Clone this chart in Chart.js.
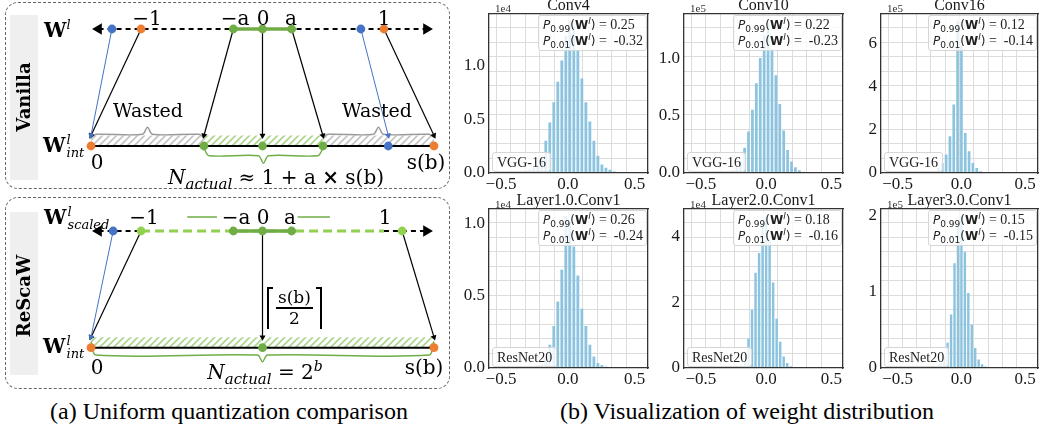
<!DOCTYPE html>
<html>
<head>
<meta charset="utf-8">
<title>Uniform quantization comparison / weight distribution</title>
<script src="https://cdn.jsdelivr.net/npm/chart.js@4.4.0/dist/chart.umd.min.js"></script>
<style>
  body { margin: 0; background: #fff; }
  #fig { position: relative; width: 1039px; height: 429px; overflow: hidden; }
  #fig canvas { position: absolute; }
  .t, .tl, .side { position: absolute; white-space: nowrap; line-height: 1; color: #000;
                   font-family: 'DejaVu Serif', serif; font-size: 20px; }
  .t { transform: translate(-50%, -50%); }
  .tl { transform: translate(0, -50%); }
  .side { font-weight: bold; font-size: 18px; transform: translate(-50%, -50%) rotate(-90deg); }
  .frame { position: absolute; left: 5px; width: 443px; border: 1px dashed #666; border-radius: 13px; }
  .tab { position: absolute; left: 10px; width: 28px; background: #efefef; }
  .W { font-size: 20px; }
  sub, sup { line-height: 0; }
  .stack { display: inline-block; vertical-align: middle; font-size: 13px; line-height: 13px;
           font-style: italic; margin-left: 1px; }
  .stack span { display: block; }
  .sb { font-size: 15px; }
  .ceil { display: inline-block; vertical-align: middle; width: 4px; height: 40px; border-top: 2px solid #000; }
  .frac { display: inline-block; vertical-align: middle; text-align: center; margin: 0 3px; font-size: 17px; }
  .frac span { display: block; padding: 1px 2px; }
  .cap { font-family: 'Liberation Serif', serif; font-size: 24px; }
  .hx { position: absolute; font-family: 'Liberation Serif', serif; font-size: 11px; color: #333;
        transform: translate(-50%, -50%); }
  .pbox { position: absolute; background: rgba(255,255,255,0.8); border: 1px solid #d6d6d6; border-radius: 3px;
          padding: 1px 3px 1px 4px; font-family: 'Liberation Serif', serif; font-size: 14px; line-height: 16px;
          color: #222; white-space: nowrap; }
  .pbox .m { font-family: 'DejaVu Sans', sans-serif; font-size: 12px; }
  .pbox sub, .pbox sup { font-size: 9px; }
  .mbox { position: absolute; background: rgba(255,255,255,0.8); border: 1px solid #d6d6d6; border-radius: 3px;
          padding: 0 4px; height: 18px; line-height: 19px; font-family: 'Liberation Serif', serif; font-size: 14px;
          color: #222; white-space: nowrap; }
</style>
</head>
<body>
<div id="fig">
  <div class="frame" style="top:2px;height:185px"></div>
  <div class="frame" style="top:197px;height:190px"></div>
  <div class="tab" style="top:15px;height:165px"></div>
  <div class="tab" style="top:212px;height:163px"></div>
  <canvas id="vanilla" width="450" height="190" style="left:0;top:0"></canvas>
  <canvas id="rescaw" width="450" height="195" style="left:0;top:195px"></canvas>

  <div class="side" style="left:24px;top:97px">Vanilla</div>
  <div class="tl" style="left:44px;top:30px"><b class="W">W</b><sup style="font-size:13px"><i>l</i></sup></div>
  <div class="t" style="left:147px;top:18px">−1</div>
  <div class="t" style="left:235px;top:18px">−a</div>
  <div class="t" style="left:263px;top:18px">0</div>
  <div class="t" style="left:291px;top:18px">a</div>
  <div class="t" style="left:384px;top:18px">1</div>
  <div class="t" style="left:148px;top:110px;font-size:19px">Wasted</div>
  <div class="t" style="left:377px;top:110px;font-size:19px">Wasted</div>
  <div class="tl" style="left:43px;top:146px"><b class="W">W</b><span class="stack"><span>l</span><span>int</span></span></div>
  <div class="t" style="left:97px;top:162px">0</div>
  <div class="t" style="left:426px;top:162px">s(b)</div>
  <div class="t" style="left:276px;top:177px"><i>N</i><sub class="sb"><i>actual</i></sub> ≈ 1 + a <b>×</b> s(b)</div>

  <div class="side" style="left:24px;top:296px">ReScaW</div>
  <div class="tl" style="left:44px;top:218px"><b class="W">W</b><span class="stack"><span>l</span><span>scaled</span></span></div>
  <div class="t" style="left:144px;top:217px">−1</div>
  <div class="t" style="left:236px;top:217px">−a</div>
  <div class="t" style="left:263px;top:217px">0</div>
  <div class="t" style="left:290px;top:217px">a</div>
  <div class="t" style="left:385px;top:217px">1</div>
  <div class="tl" style="left:267px;top:308px"><span class="ceil" style="border-left:2px solid #000"></span><span class="frac"><span style="border-bottom:2px solid #000">s(b)</span><span>2</span></span><span class="ceil" style="border-right:2px solid #000"></span></div>
  <div class="tl" style="left:43px;top:347px"><b class="W">W</b><span class="stack"><span>l</span><span>int</span></span></div>
  <div class="t" style="left:97px;top:367px">0</div>
  <div class="t" style="left:424px;top:367px">s(b)</div>
  <div class="t" style="left:265px;top:372px"><i>N</i><sub class="sb"><i>actual</i></sub> = 2<sup style="font-size:14px"><i>b</i></sup></div>

  <div class="t cap" style="left:229px;top:411px">(a) Uniform quantization comparison</div>
  <div class="t cap" style="left:747px;top:411px">(b) Visualization of weight distribution</div>
</div>

<script>
// ---------- histogram data (bin centres and bar heights, in units of the axis exponent) ----------
const binsA = [-0.435,-0.405,-0.375,-0.345,-0.315,-0.285,-0.255,-0.225,-0.195,-0.165,-0.135,-0.105,-0.075,-0.045,-0.015,
               0.015,0.045,0.075,0.105,0.135,0.165,0.195,0.225,0.255,0.285,0.315,0.345,0.375,0.405];
const binsC = [-0.21,-0.18,-0.15,-0.12,-0.09,-0.06,-0.03,0,0.03,0.06,0.09,0.12,0.15,0.18];
const binsB = [-0.216,-0.189,-0.162,-0.135,-0.108,-0.081,-0.054,-0.027,0,0.027,0.054,0.081,0.108,0.135,0.162,0.189,0.216];

const conv4  = [0.005,0.008,0.012,0.018,0.025,0.035,0.05,0.08,0.15,0.30,0.47,0.66,0.85,1.05,1.28,
                1.42,1.36,1.15,0.88,0.66,0.48,0.30,0.16,0.08,0.05,0.03,0.015,0.008,0.003];
const conv10 = [0,0,0.002,0.004,0.007,0.012,0.025,0.05,0.10,0.22,0.36,0.55,0.78,1.0,1.2,
                1.31,1.08,0.85,0.6,0.37,0.2,0.1,0.05,0.025,0.01,0.004,0,0,0];
const conv16 = [0.03,0.23,0.46,0.85,1.7,3.16,7.03,5.9,1.85,1.0,0.46,0.23,0.08,0.02];
const layer1 = [0,0,0,0,0.005,0.008,0.01,0.02,0.03,0.07,0.16,0.29,0.46,0.68,1.05,
                1.01,0.84,0.64,0.41,0.29,0.16,0.08,0.035,0.02,0.01,0.006,0.003,0,0];
const layer2 = [0.05,0.1,0.2,0.9,1.77,2.9,3.5,4.4,4.6,3.9,2.6,1.5,0.8,0.35,0.15,0.05,0.02];
const layer3 = [0.01,0.03,0.07,0.15,0.33,0.7,1.37,1.85,1.99,1.52,0.98,0.57,0.26,0.11,0.05,0.02,0.005];

const panelTitles = ['Conv4','Conv10','Conv16','Layer1.0.Conv1','Layer2.0.Conv1','Layer3.0.Conv1'];
const panelModels = ['VGG-16','VGG-16','VGG-16','ResNet20','ResNet20','ResNet20'];
const panelExp    = ['1e4','1e5','1e5','1e4','1e4','1e5'];
const p99         = ['0.25','0.22','0.12','0.26','0.18','0.15'];
const p01         = ['-0.32','-0.23','-0.14','-0.24','-0.16','-0.15'];
const yMax        = [1.49, 1.39, 7.38, 1.105, 4.86, 2.09];
const yTicks      = [[0,0.5,1],[0,0.5,1],[0,2,4,6],[0,0.5,1],[0,2,4],[0,1,2]];
const yDecimals   = [1, 1, 0, 1, 0, 0];
const xTicks      = [-0.5, 0, 0.5];
const panelBins   = [binsA, binsA, binsC, binsA, binsB, binsB];
const panelCounts = [conv4, conv10, conv16, layer1, layer2, layer3];

// ---------- quantization sketch data ----------
const LEVEL_MAX = 15;            // s(b) on the integer grid of the sketch
const W_SPAN = 5.31;             // grid levels covered by one unit of weight
const toLevel = w => LEVEL_MAX / 2 + w * W_SPAN;
const AXIS_END = 1.35;           // weight where the dashed axis arrowheads sit
const coreW = [-0.24, 0, 0.24];  // -a, 0, a

const vanOutliers = [-1.24, 0.81];
const vanClip     = [-1, 1];
const vanFrom     = [-1.24, -1, -0.24, 0, 0.24, 0.81, 1];
const vanTo       = [0, 0, 4.94, 7.5, 10.14, 13, 15];
const vanUsed     = [4.94, 10.14];
const vanBotGreen = [4.94, 7.5, 10.14];
const vanBotBlue  = [13];

const resOutliers = [-1.23];
const resScaled   = [-1, 1.15];
const resFrom     = [-1.23, -1, 0, 1.15];
const resTo       = [0, 0, 7.5, 15];
const resBotGreen = [7.5];
const gridEnds    = [0, LEVEL_MAX];

const BLUE = '#4472c4', ORANGE = '#ed7d31', GREEN = '#70ad47', LIGHT_GREEN = '#92d050', GRAY = '#9a9a9a';
const vanArrowColor = [BLUE, '#000', '#000', '#000', '#000', BLUE, '#000'];
const resArrowColor = [BLUE, '#000', '#000', '#000'];

Chart.defaults.font.family = 'Liberation Serif';

const P = (x, y) => ({ x, y });
const BAND = 0.09, HIT = 0.09;

function hatch(color) {
  const c = document.createElement('canvas');
  c.width = 7; c.height = 7;
  const g = c.getContext('2d');
  g.strokeStyle = color; g.lineWidth = 1.8;
  g.beginPath();
  g.moveTo(-1, 8); g.lineTo(8, -1);
  g.moveTo(-1, 1); g.lineTo(1, -1);
  g.moveTo(6, 8); g.lineTo(8, 6);
  g.stroke();
  return g.createPattern(c, 'repeat');
}
const grayHatch = hatch('#c6c6c6');
const greenHatch = hatch('#afd692');

function band(span, pattern) {
  return { data: [P(span[0], BAND), P(span[1], BAND)], showLine: true, borderWidth: 0, pointRadius: 0,
           fill: { value: -BAND }, backgroundColor: pattern, clip: false, order: 9 };
}
function seg(pts, color, width, dash, order) {
  return { data: pts, showLine: true, pointRadius: 0, borderColor: color, borderWidth: width,
           borderDash: dash || [], fill: false, clip: false, order: order == null ? 5 : order };
}
function headAngle(ctx) {
  const d = ctx.dataset.data, sx = ctx.chart.scales.x, sy = ctx.chart.scales.y;
  const dx = sx.getPixelForValue(d[1].x) - sx.getPixelForValue(d[0].x);
  const dy = sy.getPixelForValue(d[1].y) - sy.getPixelForValue(d[0].y);
  return Math.atan2(dx, -dy) * 180 / Math.PI;
}
function arrow(x0, y0, x1, y1, color, width, head) {
  return { data: [P(x0, y0), P(x1, y1)], showLine: true, borderColor: color, borderWidth: width,
           fill: false, clip: false, order: 2, pointRadius: [0, head], pointStyle: 'triangle',
           pointBackgroundColor: color, pointBorderWidth: 0, pointRotation: headAngle };
}
function dots(xs, y, color, r) {
  return { data: xs.map(x => P(x, y)), showLine: false, pointRadius: r || 4.4,
           pointBackgroundColor: color, pointBorderWidth: 0, clip: false, order: 0 };
}
function brace(x0, x1, yEnd, yBar, yTip, color) {
  const m = (x0 + x1) / 2, e = 0.22;
  return { data: [P(x0, yEnd), P(x0 + e, yBar), P(m - e, yBar), P(m, yTip), P(m + e, yBar), P(x1 - e, yBar), P(x1, yEnd)],
           showLine: true, pointRadius: 0, borderColor: color, borderWidth: 1.4, tension: 0.3,
           fill: false, clip: false, order: 3 };
}
const axisHeads = { data: [P(toLevel(-AXIS_END), 1), P(toLevel(AXIS_END), 1)], showLine: false,
                    pointStyle: 'triangle', pointRadius: 6.5, pointRotation: [-90, 90],
                    pointBackgroundColor: '#000', pointBorderWidth: 0, clip: false, order: 1 };

function sketch(id, padTop, padBottom, datasets) {
  new Chart(document.getElementById(id), {
    type: 'scatter',
    data: { datasets },
    options: {
      responsive: false, animation: false, events: [],
      layout: { padding: { left: 91, right: 16, top: padTop, bottom: padBottom } },
      plugins: { legend: { display: false }, tooltip: { enabled: false } },
      scales: { x: { display: false, min: 0, max: LEVEL_MAX }, y: { display: false, min: 0, max: 1 } }
    }
  });
}

sketch('vanilla', 29, 44, [
  band([0, vanUsed[0]], grayHatch), band(vanUsed, greenHatch), band([vanUsed[1], LEVEL_MAX], grayHatch),
  seg([P(0, 0), P(LEVEL_MAX, 0)], '#000', 2),
  seg([P(toLevel(-AXIS_END), 1), P(toLevel(AXIS_END), 1)], '#000', 2, [5, 4]),
  seg([P(toLevel(coreW[0]), 1), P(toLevel(coreW[2]), 1)], GREEN, 3.5, null, 4),
  axisHeads,
  ...vanFrom.map((w, i) => arrow(toLevel(w), 1, vanTo[i], HIT, vanArrowColor[i], vanArrowColor[i] === BLUE ? 1 : 1.2, 3.5)),
  brace(0, vanUsed[0], 0.075, 0.10, 0.16, GRAY),
  brace(vanUsed[1], LEVEL_MAX, 0.075, 0.10, 0.16, GRAY),
  brace(vanUsed[0], vanUsed[1], -0.02, -0.083, -0.148, GREEN),
  dots(vanOutliers.map(toLevel), 1, BLUE), dots(vanClip.map(toLevel), 1, ORANGE), dots(coreW.map(toLevel), 1, GREEN),
  dots(gridEnds, 0, ORANGE), dots(vanBotGreen, 0, GREEN), dots(vanBotBlue, 0, BLUE)
]);

sketch('rescaw', 36, 42.3, [
  band(gridEnds, greenHatch),
  seg([P(0, 0), P(LEVEL_MAX, 0)], '#000', 2),
  seg([P(toLevel(-AXIS_END), 1), P(toLevel(resScaled[0]), 1)], '#000', 2, [5, 4]),
  seg([P(toLevel(vanClip[1]), 1), P(toLevel(AXIS_END), 1)], '#000', 2, [5, 4]),
  seg([P(toLevel(resScaled[0]), 1), P(toLevel(vanClip[1]), 1)], LIGHT_GREEN, 3, [9, 5], 4),
  seg([P(toLevel(coreW[0]), 1), P(toLevel(coreW[2]), 1)], GREEN, 3.5, null, 3),
  axisHeads,
  arrow(toLevel(-0.375), 1.12, toLevel(-0.62), 1.12, GREEN, 1.5, 5),
  arrow(toLevel(0.29), 1.12, toLevel(0.555), 1.12, GREEN, 1.5, 5),
  ...resFrom.map((w, i) => arrow(toLevel(w), 1, resTo[i], HIT, resArrowColor[i], resArrowColor[i] === BLUE ? 1 : 1.2, 3.5)),
  brace(0, LEVEL_MAX, 0.05, -0.063, -0.12, GREEN),
  dots(resOutliers.map(toLevel), 1, BLUE), dots(resScaled.map(toLevel), 1, LIGHT_GREEN), dots(coreW.map(toLevel), 1, GREEN),
  dots(gridEnds, 0, ORANGE), dots(resBotGreen, 0, GREEN)
]);

// ---------- histograms ----------
const fig = document.getElementById('fig');
const colLeft = [489, 684, 881], colWidth = [159, 159, 157], rowTop = [13, 208], PLOT_H = 160;
const colRange = [[-0.59, 0.60], [-0.63, 0.59], [-0.63, 0.60]];
const SIDE = 34;
const INK = '#333', GRID = '#dcdcdc';
const noEdge = c => (!c.tick || c.index === 0 || c.tick.value === 11) ? 'rgba(0,0,0,0)' : GRID;

panelTitles.forEach((title, i) => {
  const c = i % 3, r = Math.floor(i / 3);
  const L = colLeft[c], T = rowTop[r], W = colWidth[c];
  const cv = document.createElement('canvas');
  cv.width = SIDE + W + SIDE; cv.height = 14 + PLOT_H + 24;
  cv.style.left = (L - SIDE) + 'px'; cv.style.top = (T - 14) + 'px';
  fig.appendChild(cv);

  new Chart(cv, {
    type: 'bar',
    data: { datasets: [{
      data: panelBins[i].map((b, k) => ({ x: b, y: panelCounts[i][k] })),
      backgroundColor: '#8cc4e0', borderWidth: 0, barPercentage: 0.7, categoryPercentage: 1
    }] },
    options: {
      responsive: false, animation: false, events: [],
      layout: { padding: { left: 0, right: SIDE, top: 0, bottom: 0 } },
      plugins: {
        legend: { display: false }, tooltip: { enabled: false },
        title: { display: true, fullSize: false, text: title, color: '#1a1a1a', padding: 0,
                 font: { family: 'Liberation Serif', size: 16, weight: 'normal', lineHeight: 0.875 } }
      },
      scales: {
        x: { type: 'linear', offset: false, min: colRange[c][0], max: colRange[c][1],
             grid: { display: false, drawTicks: false, offset: false }, border: { color: INK, width: 1.3, z: 1 },
             afterBuildTicks: s => { s.ticks = xTicks.map(v => ({ value: v })); },
             ticks: { padding: 1, color: '#1a1a1a', font: { size: 17 },
                      callback: v => (v < 0 ? '−' : '') + Math.abs(v).toFixed(1) },
             afterFit: s => { s.height = 24; } },
        y: { type: 'linear', min: 0, max: yMax[i],
             grid: { display: false, drawTicks: false }, border: { color: INK, width: 1.3, z: 1 },
             afterBuildTicks: s => { s.ticks = yTicks[i].map(v => ({ value: v })); },
             ticks: { padding: 4, color: '#1a1a1a', font: { size: 17 }, callback: v => v.toFixed(yDecimals[i]) },
             afterFit: s => { s.width = SIDE; } },
        gx: { type: 'linear', axis: 'x', position: 'top', min: 0, max: 11, offset: false,
              grid: { color: noEdge, drawTicks: false }, border: { color: INK, width: 1.3, z: 1 },
              ticks: { display: false, stepSize: 1 }, afterFit: s => { s.height = 0; } },
        gy: { type: 'linear', axis: 'y', position: 'right', min: 0, max: 11,
              grid: { color: noEdge, drawTicks: false }, border: { color: INK, width: 1.3, z: 1 },
              ticks: { display: false, stepSize: 1 }, afterFit: s => { s.width = 0; } }
      }
    }
  });

  const ex = document.createElement('div');
  ex.className = 'hx'; ex.textContent = panelExp[i];
  ex.style.left = (L + 14) + 'px'; ex.style.top = (T - (r === 0 ? 5 : 4)) + 'px';
  fig.appendChild(ex);

  const pb = document.createElement('div');
  pb.className = 'pbox';
  const pl = (q, v) => '<span class="m"><i>P</i><sub>' + q + '</sub>(<b>W</b><sup><i>l</i></sup>)</span> = ' +
                       (v[0] === '-' ? '&nbsp;' : '') + v;
  pb.innerHTML = pl('0.99', p99[i]) + '<br>' + pl('0.01', p01[i]);
  pb.style.top = (T + 2) + 'px'; pb.style.right = (1039 - (L + W) + 1) + 'px';
  fig.appendChild(pb);

  const mb = document.createElement('div');
  mb.className = 'mbox'; mb.textContent = panelModels[i];
  mb.style.left = (L + 3) + 'px'; mb.style.top = (T + PLOT_H - 21) + 'px';
  fig.appendChild(mb);
});
</script>
</body>
</html>
